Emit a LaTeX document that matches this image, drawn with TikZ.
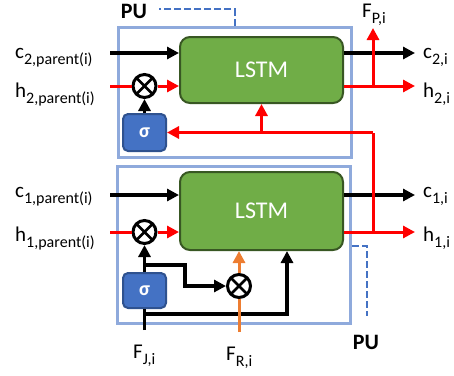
\documentclass[tikz,border=0pt]{standalone}
\usepackage{fontspec}
\setmainfont{Carlito}
\usetikzlibrary{arrows.meta,positioning}
\definecolor{pulight}{RGB}{143,170,220}
\definecolor{pudash}{RGB}{68,114,196}
\definecolor{lstmgreen}{RGB}{112,173,71}
\definecolor{lstmdark}{RGB}{56,87,35}
\definecolor{sigblue}{RGB}{68,114,196}
\definecolor{sigdark}{RGB}{47,82,143}
\definecolor{hred}{RGB}{255,0,0}
\definecolor{forange}{RGB}{237,125,49}

\newcommand{\sublbl}[2]{#1\raisebox{-6pt}{\fontsize{16}{18}\selectfont #2}}

\begin{document}
\begin{tikzpicture}[x=1pt, y=-1pt, font=\fontsize{21}{24}\selectfont,
  pubox/.style={draw=pulight, line width=3pt, minimum width=233pt},
  lstm/.style={draw=lstmdark, line width=2pt, fill=lstmgreen, rounded corners=10pt, text=white, font=\fontsize{24}{28}\selectfont, minimum width=163pt, inner sep=0pt},
  sig/.style={draw=sigdark, line width=2pt, fill=sigblue, rounded corners=5pt, text=white, font=\fontsize{20}{24}\selectfont\bfseries, minimum width=43pt, inner sep=0pt},
  mult/.style={circle, draw, line width=3pt, minimum size=23pt, inner sep=0pt, fill=white,
    path picture={\draw[line width=2.5pt] (path picture bounding box.south west) -- (path picture bounding box.north east)
      (path picture bounding box.north west) -- (path picture bounding box.south east);}},
  lbl/.style={inner sep=0pt, anchor=base west},
  pulbl/.style={inner sep=0pt, font=\fontsize{22}{26}\selectfont\bfseries},
  blk/.style={line width=3.5pt},
  blkarr/.style={blk, -{Triangle[length=12pt,width=12pt]}},
  hln/.style={hred, line width=3pt},
  harr/.style={hln, -{Triangle[length=12pt,width=12pt]}},
  oln/.style={forange, line width=3pt},
  oarr/.style={oln, -{Triangle[length=12pt,width=12pt]}},
  dashline/.style={pudash, line width=2pt, dash pattern=on 7pt off 3pt}]
\useasboundingbox (0,0) rectangle (454,375);

% PU frames
\node[pubox, minimum height=130pt] (pu2) at (234.5,92) {};
\node[pubox, minimum height=157pt] (pu1) at (234,244.5) {};
\node[pulbl] (putop) at (134,11) {PU};
\node[pulbl] (pubot) at (366,342) {PU};
\draw[dashline] (pu2.north) |- ([xshift=12pt,yshift=2pt]putop.east);
\coordinate (pudend) at (367,316);
\draw[dashline] (pu1.east |- 0,246) -| (pudend);

% Upper unit
\node[lstm, minimum height=66pt] (lstm2) at (261.5,70) {LSTM};
\node[sig, minimum height=37pt] (sig2) at (144.5,132.5) {σ};
\node[mult] (m2) at (144.5,86) {};

\coordinate (c2in) at (110,53);
\coordinate (c2out) at (415,53);
\coordinate (h2in) at (110,86);
\coordinate (h2out) at (415,86);
\coordinate (fp) at (373,28);
\draw[blkarr] (c2in) -- (c2in -| lstm2.west);
\draw[blkarr] (lstm2.east |- c2out) -- (c2out);
\draw[hln] (h2in) -- (m2);
\draw[harr] (m2) -- (m2 -| lstm2.west);
\draw[harr] (lstm2.east |- h2out) -- (h2out);
\draw[harr] (fp |- h2out) -- (fp);
\draw[blkarr] (sig2) -- (m2);

% Lower unit
\node[lstm, minimum height=78pt] (lstm1) at (261.5,211) {LSTM};
\node[sig, minimum height=35pt] (sig1) at (144.5,290.5) {σ};
\node[mult] (m1) at (144.5,232) {};
\node[mult] (mr) at (239,286) {};

\coordinate (c1in) at (110,195);
\coordinate (c1out) at (415,195);
\coordinate (h1in) at (110,232);
\coordinate (h1out) at (415,232);
\draw[blkarr] (c1in) -- (c1in -| lstm1.west);
\draw[blkarr] (lstm1.east |- c1out) -- (c1out);
\draw[hln] (h1in) -- (m1);
\draw[harr] (m1) -- (m1 -| lstm1.west);
\draw[harr] (lstm1.east |- h1out) -- (h1out);

% Feedback from h1 to upper unit
\draw[hln] (fp |- h1out) -- (fp |- sig2);
\draw[harr] (fp |- sig2) -- (sig2.east);
\draw[harr] (lstm2.south |- sig2) -- (lstm2.south);

% F_J and F_R inputs
\coordinate (fj) at (144.5,330);
\coordinate (fr) at (239,332);
\coordinate (br1) at (144.5,265);
\coordinate (br2) at (185,265);
\coordinate (br3) at (144.5,314);
\draw[blk] (fj) -- (sig1);
\draw[blkarr] (sig1) -- (m1);
\draw[blkarr, line join=miter] (br1) -- (br2) |- (mr);
\draw[blkarr, line join=miter] (br3) -| ([xshift=25.5pt]lstm1.south);
\draw[oln] (fr) -- (mr);
\draw[oarr] (mr) -- (mr |- lstm1.south);

% Labels
\node[lbl] (c2lbl) at (15,58) {\sublbl{c}{2,parent(i)}};
\node[lbl] (h2lbl) at (15,97) {\sublbl{h}{2,parent(i)}};
\node[lbl] (c1lbl) at (15,197) {\sublbl{c}{1,parent(i)}};
\node[lbl] (h1lbl) at (15,241) {\sublbl{h}{1,parent(i)}};
\node[lbl] (c2olbl) at (423,58) {\sublbl{c}{2,i}};
\node[lbl] (h2olbl) at (423,97) {\sublbl{h}{2,i}};
\node[lbl] (c1olbl) at (423,197) {\sublbl{c}{1,i}};
\node[lbl] (h1olbl) at (423,241) {\sublbl{h}{1,i}};
\node[lbl] (fplbl) at (362,17) {\sublbl{F}{P,i}};
\node[lbl] (fjlbl) at (133,358) {\sublbl{F}{J,i}};
\node[lbl] (frlbl) at (226,360) {\sublbl{F}{R,i}};
\end{tikzpicture}
\end{document}
